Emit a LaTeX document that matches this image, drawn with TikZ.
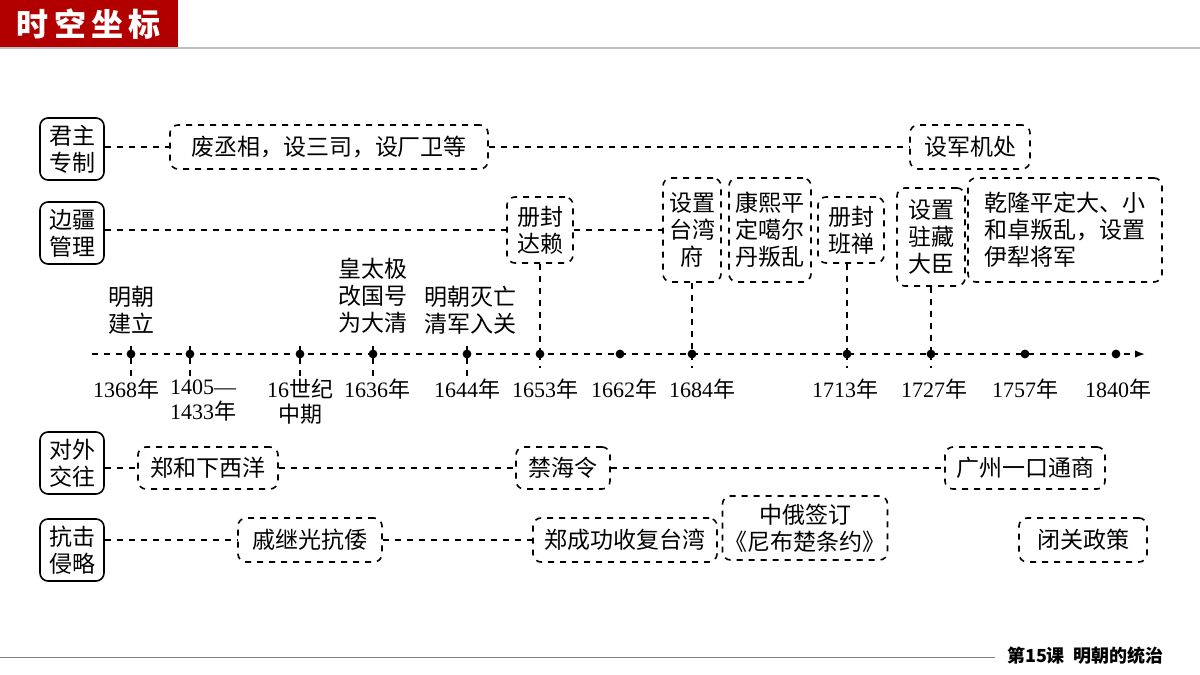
\documentclass[tikz,border=0pt]{standalone}
\usepackage{fontspec}
\setmainfont{Liberation Serif}
\newfontfamily\cjk{Noto Sans CJK SC}
\usetikzlibrary{arrows.meta, positioning}

\tikzset{
    cat/.style={draw, thick, rounded corners=4pt, align=center, font=\cjk\fontsize{11.5}{13.5}\selectfont, minimum width=32pt, minimum height=31pt, inner sep=1pt},
    evt/.style={draw, thick, dashed, rounded corners=4pt, align=center, font=\cjk\fontsize{11.5}{13.5}\selectfont, inner sep=1pt},
    lnk/.style={thick, dashed},
    yr/.style={align=center, font=\fontsize{11}{12.5}\selectfont, inner sep=0pt},
    lbl/.style={align=center, font=\cjk\fontsize{11.5}{13.5}\selectfont, inner sep=0pt}
}
\newcommand{\nian}{{\cjk 年}}

\begin{document}
\begin{tikzpicture}[x=0.5pt, y=-0.5pt]
    \useasboundingbox (0,0) rectangle (1200,675);
    % header and footer
    \fill[red!70!black] (0,0) rectangle (178,47);
    \node[text=white, font=\cjk\bfseries\fontsize{16}{16}\selectfont] (title) at (89,24) {时\,空\,坐\,标};
    \draw[gray!50, line width=1pt] (0,48) -- (1200,48);
    \draw[gray] (0,657) -- (995,657);
    \node[font=\cjk\bfseries\fontsize{9}{9}\selectfont, anchor=west] (lesson) at (1000,656) {第\textbf{15}课\ \ 明朝的统治};

    % categories
    \node[cat] (jz) at (72,149) {君主\\专制};
    \node[cat] (bj) at (72,233) {边疆\\管理};
    \node[cat] (dw) at (72,463) {对外\\交往};
    \node[cat] (kj) at (72,550) {抗击\\侵略};

    % row 1
    \node[evt, minimum width=159pt, minimum height=22pt] (fcx) at (329,147) {废丞相，设三司，设厂卫等};
    \node[evt, minimum width=60pt, minimum height=22pt] (jjc) at (970,147) {设军机处};
    \draw[lnk] (jz.east |- fcx.west) -- (fcx.west);
    \draw[lnk] (fcx) -- (jjc);

    % row 2
    \node[evt, minimum width=33pt, minimum height=33pt] (dl) at (540,230) {册封\\达赖};
    \node[evt, minimum width=29pt, minimum height=52pt] (tw) at (692,230) {设置\\台湾\\府};
    \node[evt, minimum width=41pt, minimum height=52pt] (gd) at (770,230) {康熙平\\定噶尔\\丹叛乱};
    \node[evt, minimum width=33pt, minimum height=33pt] (bc) at (851,230) {册封\\班禅};
    \node[evt, minimum width=34pt, minimum height=49pt] (zc) at (931,237) {设置\\驻藏\\大臣};
    \node[evt, minimum width=97pt, minimum height=52pt, align=left] (ql) at (1065,230) {乾隆平定大、小\\和卓叛乱，设置\\伊犁将军};
    \draw[lnk] (jz.east |- dl.west) -- (dl.west);
    \draw[lnk] (dl) -- (tw);

    % timeline
    \coordinate (ts) at (92,354);
    \coordinate (te) at (1145,354);
    \draw[lnk, -{Latex[length=5pt]}] (ts) -- (te);
    \foreach \x/\n in {131/a,190/b,300/c,373/d,467/e,540/f,620/g,692/h,847/i,931/j,1025/k,1116/l} {
        \fill (\x,354) circle (2.2pt) coordinate (t\n);
    }
    \foreach \n in {a,b,c,d,e} {
        \draw[lnk] ([yshift=-11pt]t\n) -- ([yshift=7pt]t\n);
    }
    \draw[lnk] (dl.south) -- (dl.south |- tf);
    \draw[lnk] (tw.south) -- (tw.south |- th);
    \draw[lnk] (bc.south -| ti) -- (ti);
    \draw[lnk] (zc.south) -- (zc.south |- tj);
    \foreach \n in {f,h,i,j} {
        \draw[lnk] (t\n) -- ([yshift=-7pt]t\n);
    }

    \node[lbl] (mjl) at (131,310) {明朝\\建立};
    \node[lbl] (htj) at (373,296) {皇太极\\改国号\\为大清};
    \node[lbl] (qjr) at (470,310) {明朝灭亡\\清军入关};

    \node[yr, anchor=north] (y1) at (126,379) {1368\nian};
    \node[yr, anchor=north] (y2) at (203,379) {1405—\\1433\nian};
    \node[yr, anchor=north, font=\cjk\fontsize{11}{12.5}\selectfont] (y3) at (300,379) {{\rmfamily 16}世纪\\中期};
    \node[yr, anchor=north] (y4) at (377,379) {1636\nian};
    \node[yr, anchor=north] (y5) at (467,379) {1644\nian};
    \node[yr, anchor=north] (y6) at (545,379) {1653\nian};
    \node[yr, anchor=north] (y7) at (624,379) {1662\nian};
    \node[yr, anchor=north] (y8) at (702,379) {1684\nian};
    \node[yr, anchor=north] (y9) at (845,379) {1713\nian};
    \node[yr, anchor=north] (y10) at (934,379) {1727\nian};
    \node[yr, anchor=north] (y11) at (1025,379) {1757\nian};
    \node[yr, anchor=north] (y12) at (1118,379) {1840\nian};

    % row 3
    \node[evt, minimum width=70pt, minimum height=21pt] (zh) at (208,468) {郑和下西洋};
    \node[evt, minimum width=47pt, minimum height=21pt] (jhl) at (563,468) {禁海令};
    \node[evt, minimum width=80pt, minimum height=21pt] (gz) at (1025,468) {广州一口通商};
    \draw[lnk] (dw.east |- zh.west) -- (zh.west);
    \draw[lnk] (zh) -- (jhl);
    \draw[lnk] (jhl) -- (gz);

    % row 4
    \node[evt, minimum width=72pt, minimum height=22pt] (qjg) at (310,540) {戚继光抗倭};
    \node[evt, minimum width=92pt, minimum height=22pt] (zcg) at (625,540) {郑成功收复台湾};
    \node[evt, minimum width=80pt, minimum height=32pt] (nbc) at (805,528) {中俄签订\\《尼布楚条约》};
    \node[evt, minimum width=64pt, minimum height=22pt] (bg) at (1083,540) {闭关政策};
    \draw[lnk] (kj.east |- qjg.west) -- (qjg.west);
    \draw[lnk] (qjg) -- (zcg);
\end{tikzpicture}
\end{document}
